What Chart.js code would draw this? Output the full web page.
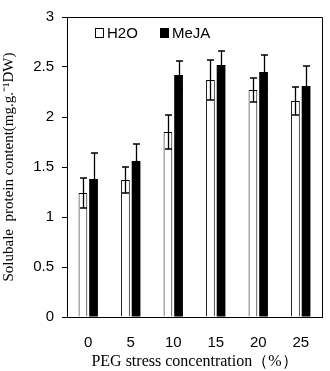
<!DOCTYPE html>
<html><head><meta charset="utf-8">
<script src="https://cdn.jsdelivr.net/npm/chart.js@4/dist/chart.umd.min.js"></script>
<style>html,body{margin:0;padding:0;background:#fff}#wrap{width:330px;height:371px}</style>
</head><body><div id="wrap"><canvas id="c" width="330" height="371"></canvas></div>
<script>
const categories = ['0','5','10','15','20','25'];
const h2oValues = [1.24, 1.37, 1.85, 2.37, 2.27, 2.16];
const h2oErrors = [0.15, 0.13, 0.17, 0.20, 0.12, 0.14];
const mejaValues = [1.38, 1.56, 2.42, 2.52, 2.45, 2.31];
const mejaErrors = [0.26, 0.17, 0.14, 0.14, 0.17, 0.20];
const seriesLabels = ['H2O', 'MeJA'];
const yTitle = 'Solubale  protein content(mg.g.\u207B\u00B9DW)';
const xTitle = 'PEG stress concentration\uFF08%\uFF09';

const errs = [h2oErrors, mejaErrors];

const errorBars = {
  id: 'errorBars',
  afterDatasetsDraw(chart) {
    const ctx = chart.ctx, y = chart.scales.y;
    ctx.save();
    ctx.strokeStyle = '#000'; ctx.lineWidth = 1.3;
    chart.data.datasets.forEach((ds, di) => {
      const meta = chart.getDatasetMeta(di);
      meta.data.forEach((bar, i) => {
        const v = ds.data[i], e = errs[di][i];
        const x = Math.round(bar.x) + 0.5;
        const t = y.getPixelForValue(v + e), b = y.getPixelForValue(v - e);
        ctx.beginPath();
        ctx.moveTo(x, t); ctx.lineTo(x, b);
        ctx.moveTo(x - 3.5, t); ctx.lineTo(x + 3.5, t);
        ctx.moveTo(x - 3.5, b); ctx.lineTo(x + 3.5, b);
        ctx.stroke();
      });
    });
    ctx.restore();
  }
};

const frameAndLegend = {
  id: 'frameAndLegend',
  afterDraw(chart) {
    const ctx = chart.ctx, a = chart.chartArea;
    ctx.save();
    ctx.strokeStyle = '#000'; ctx.lineWidth = 1;
    ctx.beginPath();
    ctx.moveTo(a.left, a.top + 0.5); ctx.lineTo(a.right + 0.5, a.top + 0.5); ctx.lineTo(a.right + 0.5, a.bottom);
    ctx.stroke();
    ctx.font = '15px "Liberation Sans", Arial, sans-serif';
    ctx.textBaseline = 'middle';
    const ly = 33;
    const items = [{x: 95, fill: '#fff'}, {x: 160, fill: '#000'}];
    items.forEach((it, k) => {
      ctx.fillStyle = it.fill;
      ctx.fillRect(it.x + 0.5, ly - 4.5, 8, 9);
      ctx.strokeRect(it.x + 0.5, ly - 4.5, 8, 9);
      ctx.fillStyle = '#000';
      ctx.fillText(chart.data.datasets[k].label, it.x + 12, ly + 1);
    });
    ctx.restore();
  }
};

new Chart(document.getElementById('c'), {
  type: 'bar',
  data: {
    labels: categories,
    datasets: [
      {label: seriesLabels[0], data: h2oValues, backgroundColor: '#fff', borderColor: '#000', borderWidth: 1, barPercentage: 0.82, categoryPercentage: 0.5},
      {label: seriesLabels[1], data: mejaValues, backgroundColor: '#000', borderColor: '#000', borderWidth: 0, barPercentage: 0.82, categoryPercentage: 0.5}
    ]
  },
  options: {
    responsive: false, animation: false, devicePixelRatio: 1,
    layout: {padding: {left: 0, right: 8, top: 8, bottom: 0}},
    plugins: {legend: {display: false}, tooltip: {enabled: false}},
    scales: {
      x: {
        grid: {display: false},
        border: {display: true, color: '#000', width: 1},
        ticks: {color: '#000', font: {family: '"Liberation Sans", Arial, sans-serif', size: 15}, padding: 9},
        title: {display: true, text: xTitle, color: '#000', font: {family: '"Liberation Serif", "Times New Roman", serif', size: 16}, padding: {top: 0, bottom: 0}},
        afterFit(s) { s.height = 54; }
      },
      y: {
        min: 0, max: 3,
        ticks: {stepSize: 0.5, color: '#000', font: {family: '"Liberation Sans", Arial, sans-serif', size: 15}, padding: 8, callback: v => String(v)},
        grid: {drawOnChartArea: false, drawTicks: true, tickLength: 5, color: '#000'},
        border: {display: true, color: '#000', width: 1},
        title: {display: true, text: yTitle, color: '#000', font: {family: '"Liberation Serif", "Times New Roman", serif', size: 15}, padding: {top: 0, bottom: 2}},
        afterFit(s) { s.width = 67; }
      }
    }
  },
  plugins: [errorBars, frameAndLegend]
});
</script>
</body></html>
